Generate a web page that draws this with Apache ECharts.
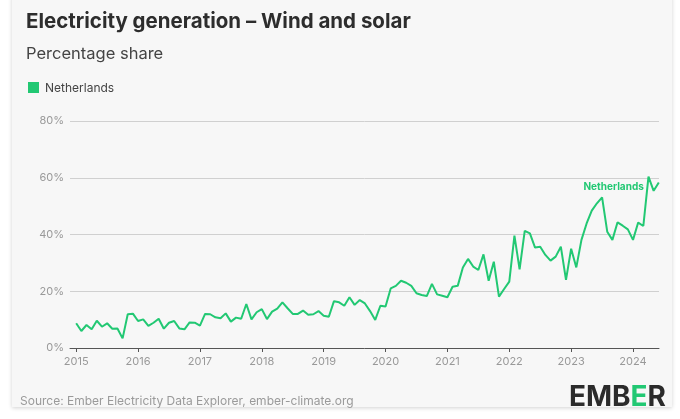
<!DOCTYPE html>
<html>
<head>
<meta charset="utf-8">
<script src="https://cdn.jsdelivr.net/npm/echarts@6/dist/echarts.min.js"></script>
<style>
html,body{margin:0;padding:0;background:#ffffff;}
#chart{width:680px;height:419px;}
</style>
</head>
<body>
<div id="chart"></div>
<script>
var years = [2015, 2016, 2017, 2018, 2019, 2020, 2021, 2022, 2023, 2024];
var yTicks = [0, 20, 40, 60, 80];
var seriesName = 'Netherlands';
var share2015 = [8.7, 6.0, 8.1, 6.6, 9.6, 7.5, 8.7, 6.8, 6.9, 3.4, 11.9, 12.1];
var share2016 = [9.5, 10.1, 7.8, 8.9, 10.3, 6.8, 8.9, 9.5, 6.9, 6.6, 9.0, 8.9];
var share2017 = [7.9, 12.0, 11.9, 10.8, 10.5, 12.2, 9.3, 10.7, 10.3, 15.5, 10.1, 12.6];
var share2018 = [13.7, 10.2, 12.8, 13.9, 16.1, 14.0, 12.0, 12.0, 13.2, 11.7, 11.9, 13.0];
var share2019 = [11.4, 11.0, 16.5, 16.1, 14.9, 17.9, 15.2, 16.9, 15.7, 13.0, 9.9, 14.9];
var share2020 = [14.6, 21.0, 21.9, 23.7, 23.0, 21.9, 19.3, 18.7, 18.3, 22.6, 18.9, 18.4];
var share2021 = [17.9, 21.6, 21.9, 28.4, 31.4, 28.7, 27.5, 33.0, 23.7, 30.4, 18.1, 20.8];
var share2022 = [23.4, 39.6, 27.7, 41.3, 40.4, 35.4, 35.7, 32.8, 30.8, 32.2, 35.7, 24.0];
var share2023 = [35.0, 28.4, 38.1, 43.9, 48.4, 51.0, 53.1, 41.0, 38.1, 44.3, 43.1, 41.8];
var share2024 = [38.1, 44.2, 43.0, 60.4, 55.4, 58.3];

var allYears = [share2015, share2016, share2017, share2018, share2019, share2020, share2021, share2022, share2023, share2024];
var data = [];
allYears.forEach(function (arr, yi) {
  arr.forEach(function (v, mi) {
    data.push([years[yi] + mi / 12, v]);
  });
});

var GREEN = '#22c873';
var chart = echarts.init(document.getElementById('chart'), null, {renderer: 'canvas'});
var FONT = 'Inter, "Noto Sans", sans-serif';

chart.setOption({
  backgroundColor: '#ffffff',
  animation: false,
  textStyle: {fontFamily: FONT},
  graphic: [
    {type: 'rect', z: -10, silent: true,
     shape: {x: 12, y: -4, width: 660, height: 411},
     style: {fill: '#f7f7f7', shadowBlur: 4, shadowColor: 'rgba(0,0,0,0.18)', shadowOffsetY: 1}},
    {type: 'text', left: 26, top: 11,
     style: {text: 'Electricity generation – Wind and solar', font: 'bold 20.5px ' + FONT, fill: '#2d2d2d'}},
    {type: 'text', left: 26, top: 46,
     style: {text: 'Percentage share', font: '16.5px ' + FONT, fill: '#444444'}},
    {type: 'rect', shape: {x: 28, y: 82, width: 11, height: 11}, style: {fill: GREEN}},
    {type: 'text', left: 45, top: 82,
     style: {text: seriesName, font: '12px ' + FONT, fill: '#444444'}},
    {type: 'text', left: 20, top: 395,
     style: {text: 'Source: Ember Electricity Data Explorer, ember-climate.org', font: '12px ' + FONT, fill: '#9a9a9a'}},
    {type: 'text', right: 14, top: 384,
     style: {
       text: '{a|EMB}{b|E}{a|R}',
       rich: {
         a: {font: 'bold 28px ' + FONT, fill: '#2b2b2b'},
         b: {font: 'bold 28px ' + FONT, fill: GREEN}
       }
     }}
  ],
  grid: {left: 70, right: 21, top: 121, bottom: 71},
  xAxis: {
    type: 'value',
    min: 2014.9,
    max: 2024.42,
    axisLine: {show: true, onZero: false, lineStyle: {color: '#555555', width: 1}},
    axisTick: {show: true, length: 4, lineStyle: {color: '#555555'}, customValues: years},
    splitLine: {show: false},
    axisLabel: {
      color: '#999999', fontSize: 11, margin: 8,
      customValues: years,
      formatter: function (v) { return String(Math.round(v)); }
    }
  },
  yAxis: {
    type: 'value',
    min: 0, max: 80, interval: 20,
    axisLine: {show: false},
    axisTick: {show: false},
    axisLabel: {color: '#999999', fontSize: 11, margin: 6, formatter: '{value}%'},
    splitLine: {lineStyle: {color: '#d0d0d0', width: 1}}
  },
  series: [{
    name: seriesName,
    type: 'line',
    data: data,
    showSymbol: false,
    symbol: 'none',
    lineStyle: {color: GREEN, width: 2},
    itemStyle: {color: GREEN},
    endLabel: {
      show: true,
      formatter: seriesName,
      color: GREEN,
      fontSize: 10,
      fontWeight: 'bold',
      align: 'right',
      distance: 0,
      offset: [-15, 4]
    }
  }]
});
</script>
</body>
</html>
